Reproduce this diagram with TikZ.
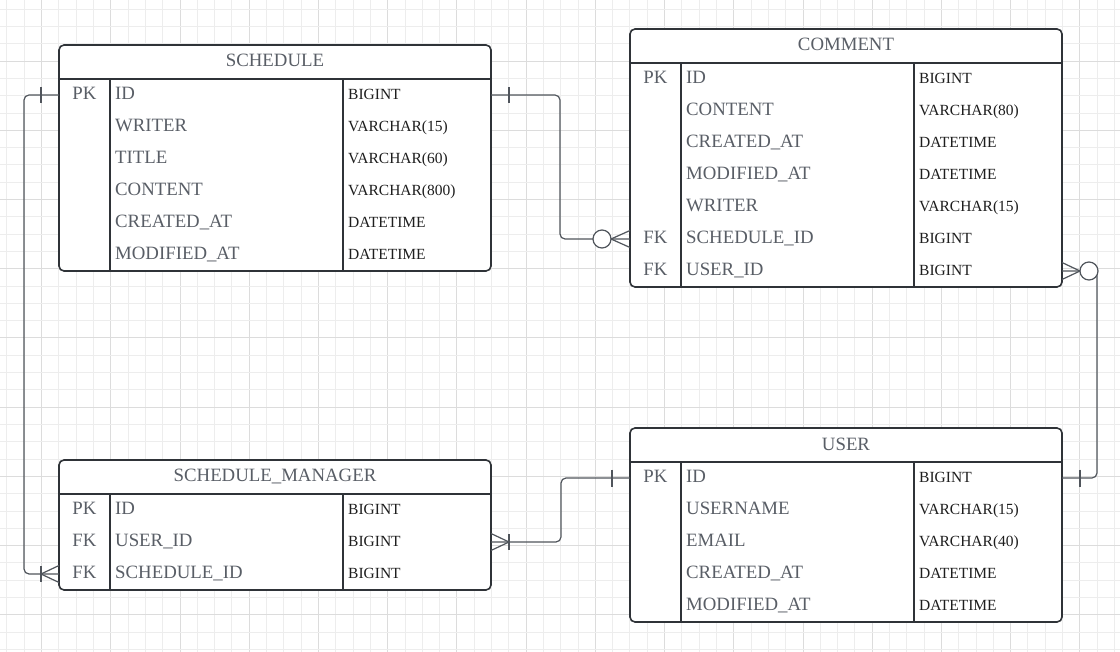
\documentclass[tikz,border=0pt]{standalone}
\usepackage{fontspec}
\setmainfont{Liberation Serif}
\definecolor{gridminor}{HTML}{EDEDED}
\definecolor{gridmajor}{HTML}{DCDCDC}
\definecolor{txt}{HTML}{595E66}
\definecolor{typ}{HTML}{1E1E1E}
\definecolor{bord}{HTML}{2F3338}
\definecolor{conn}{HTML}{50555C}
\tikzset{
  tblbox/.style={rectangle, draw=bord, fill=white, line width=1.6pt, rounded corners=5pt,
    minimum width=432pt, inner sep=0pt, outer sep=0pt},
  divline/.style={draw=bord, line width=1.4pt},
  hdrtxt/.style={inner sep=0pt, text=txt, font=\fontsize{18.8}{20}\selectfont},
  keytxt/.style={inner sep=0pt, text=txt, font=\fontsize{18.8}{20}\selectfont},
  nametxt/.style={inner sep=0pt, text=txt, font=\fontsize{18.8}{20}\selectfont},
  typetxt/.style={inner sep=0pt, text=typ, font=\fontsize{15.5}{17}\selectfont},
  conn/.style={draw=conn, line width=1.2pt},
  endcirc/.style={circle, draw=conn, fill=white, line width=1.2pt, minimum size=18pt, inner sep=0pt},
}
% #1 id, #2 x0, #3 y0, #4 title, #5 number of rows, #6 rows
\newcommand\ertable[6]{%
  \pgfmathsetmacro\tblh{34+32*#5}%
  \node[tblbox, minimum height=\tblh pt, anchor=north west] (#1) at (#2,#3) {};
  \node[hdrtxt, anchor=base] (#1-title) at ([yshift=-22pt]#1.north) {#4};
  \draw[divline] ([yshift=-34pt]#1.north west) -- ([yshift=-34pt]#1.north east);
  \draw[divline] ([xshift=51pt,yshift=-34pt]#1.north west) -- ([xshift=51pt]#1.south west);
  \draw[divline] ([xshift=284pt,yshift=-34pt]#1.north west) -- ([xshift=284pt]#1.south west);
  \foreach \k/\n/\t [count=\i] in {#6} {
    \pgfmathsetmacro\yy{#3+34+32*\i-11.2}
    \pgfmathsetmacro\yc{#3+34+32*\i-16}
    \coordinate (#1-r\i) at (#2,\yc);
    \node[keytxt, anchor=base] (#1-k\i) at (#2+25.5,\yy) {\k};
    \node[nametxt, anchor=base west] (#1-n\i) at (#2+56,\yy) {\n};
    \node[typetxt, anchor=base west] (#1-t\i) at (#2+289,\yy) {\t};
  }
}
\begin{document}
\begin{tikzpicture}[x=1pt, y=-1pt]
\useasboundingbox (0,0) rectangle (1120,652);
\fill[white] (0,0) rectangle (1120,652);
% grid
\foreach \k in {-2,...,62}{
  \pgfmathtruncatemacro\m{mod(\k+8,4)}
  \ifnum\m=0 \def\gc{gridmajor}\else\def\gc{gridminor}\fi
  \draw[\gc, line width=1pt] (41.6+17.305*\k,0) -- (41.6+17.305*\k,652);
}
\foreach \k in {-3,...,34}{
  \pgfmathtruncatemacro\m{mod(\k+8,4)}
  \ifnum\m=0 \def\gc{gridmajor}\else\def\gc{gridminor}\fi
  \draw[\gc, line width=1pt] (0,61.1+17.305*\k) -- (1120,61.1+17.305*\k);
}
% tables
\ertable{sched}{59}{45}{SCHEDULE}{6}{PK/ID/BIGINT, /WRITER/VARCHAR(15), /TITLE/VARCHAR(60), /CONTENT/VARCHAR(800), /CREATED\_AT/DATETIME, /MODIFIED\_AT/DATETIME}
\ertable{comment}{630}{29}{COMMENT}{7}{PK/ID/BIGINT, /CONTENT/VARCHAR(80), /CREATED\_AT/DATETIME, /MODIFIED\_AT/DATETIME, /WRITER/VARCHAR(15), FK/SCHEDULE\_ID/BIGINT, FK/USER\_ID/BIGINT}
\ertable{user}{630}{428}{USER}{5}{PK/ID/BIGINT, /USERNAME/VARCHAR(15), /EMAIL/VARCHAR(40), /CREATED\_AT/DATETIME, /MODIFIED\_AT/DATETIME}
\ertable{mgr}{59}{460}{SCHEDULE\_MANAGER}{3}{PK/ID/BIGINT, FK/USER\_ID/BIGINT, FK/SCHEDULE\_ID/BIGINT}
% connector endpoints
\coordinate (e1a) at (sched.east |- sched-r1);
\coordinate (e1b) at (comment.west |- comment-r6);
\coordinate (e2a) at (comment.east |- comment-r7);
\coordinate (e2b) at (user.east |- user-r1);
\coordinate (e3a) at (sched.west |- sched-r1);
\coordinate (e3b) at (mgr.west |- mgr-r3);
\coordinate (e4a) at (user.west |- user-r1);
\coordinate (e4b) at (mgr.east |- mgr-r2);
% SCHEDULE.ID -> COMMENT.SCHEDULE_ID
\draw[conn, rounded corners=5pt] (e1a) -- ++(69,0) |- (e1b);
\draw[conn] ([xshift=18pt]e1a) ++(0,-8) -- ++(0,16);
\draw[conn] ([xshift=-19pt]e1b) -- ++(19,-8.5);
\draw[conn] ([xshift=-19pt]e1b) -- ++(19,8.5);
\node[endcirc] (o1) at ([xshift=-28pt]e1b) {};
% COMMENT.USER_ID -> USER.ID
\draw[conn, rounded corners=5pt] (e2a) -- ++(35,0) |- (e2b);
\draw[conn] ([xshift=18pt]e2a) -- ++(-18,-8.5);
\draw[conn] ([xshift=18pt]e2a) -- ++(-18,8.5);
\node[endcirc] (o2) at ([xshift=27pt]e2a) {};
\draw[conn] ([xshift=18pt]e2b) ++(0,-8.5) -- ++(0,17);
% SCHEDULE.ID -> SCHEDULE_MANAGER.SCHEDULE_ID
\draw[conn, rounded corners=5pt] (e3a) -- ++(-35,0) |- (e3b);
\draw[conn] ([xshift=-18pt]e3a) ++(0,-8) -- ++(0,16);
\draw[conn] ([xshift=-18pt]e3b) ++(0,-8) -- ++(0,16);
\draw[conn] ([xshift=-18pt]e3b) -- ++(18,-8.5);
\draw[conn] ([xshift=-18pt]e3b) -- ++(18,8.5);
% USER.ID -> SCHEDULE_MANAGER.USER_ID
\draw[conn, rounded corners=5pt] (e4a) -- ++(-69,0) |- (e4b);
\draw[conn] ([xshift=-18pt]e4a) ++(0,-8.5) -- ++(0,17);
\draw[conn] ([xshift=18pt]e4b) ++(0,-8) -- ++(0,16);
\draw[conn] ([xshift=18pt]e4b) -- ++(-18,-8.5);
\draw[conn] ([xshift=18pt]e4b) -- ++(-18,8.5);
\end{tikzpicture}
\end{document}
